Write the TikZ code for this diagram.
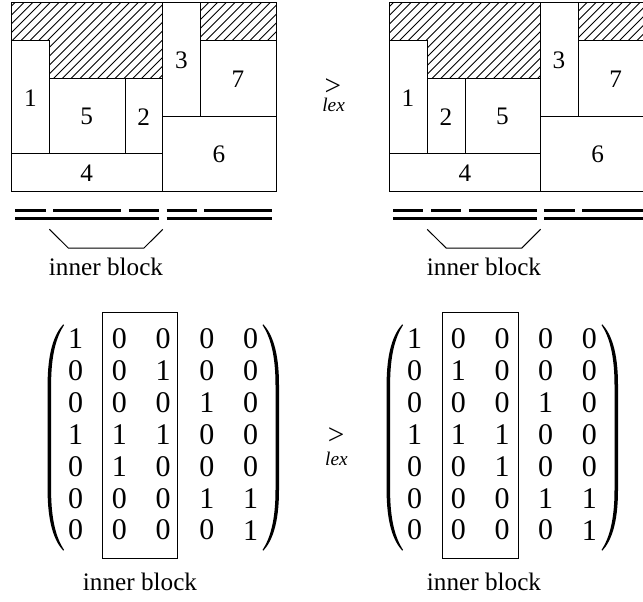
\documentclass[tikz,border=0pt]{standalone}
\usepackage{fontspec}
\setmainfont{Liberation Serif}
\tikzset{
  blockline/.style={draw=black,line width=0.75pt},
  hatchline/.style={draw=black,line width=0.65pt},
  dashbar/.style={draw=black,line width=2pt},
  dig/.style={inner sep=0pt,font=\fontsize{18.9pt}{20pt}\selectfont},
  matdig/.style={inner sep=0pt,font=\fontsize{22.5pt}{24pt}\selectfont},
  caplab/.style={inner sep=0pt,anchor=base,font=\fontsize{18.9pt}{20pt}\selectfont},
  gtsym/.style={inner sep=0pt,font=\fontsize{22pt}{24pt}\selectfont},
  lexlab/.style={inner sep=0pt,anchor=base,font=\fontsize{14.5pt}{15pt}\selectfont\itshape},
  parfill/.style={fill=black,draw=none}
}
\newcommand{\ParenShape}{
  (0,324.3) .. controls (-9,334) and (-15.7,352) .. (-15.7,385) -- (-15.7,490)
  .. controls (-15.7,523) and (-9,541) .. (0,550.7) -- (0.7,549.9)
  .. controls (-7,538) and (-12.2,520) .. (-12.2,490) -- (-12.2,385)
  .. controls (-12.2,355) and (-7,337) .. (0.7,325.1) -- cycle}
\newcommand{\HatchLines}{
  \foreach \c in {0,8.8,...,970} {
    \draw[hatchline] (\c,0) -- (\c-300,300);
  }}
\begin{document}
\begin{tikzpicture}[x=0.75pt,y=-0.75pt]
\useasboundingbox (0,0) rectangle (643,601);
\clip (0,0) rectangle (643,601);

% ---------- left block
\begin{scope}
  \clip (11.6,2.7) rectangle (162.8,78.3) (200.6,2.7) rectangle (276.2,40.5);
  \HatchLines
\end{scope}
\fill[white] (11.6,40.5) rectangle (49.4,153.9);
\draw[blockline] (11.6,2.7) rectangle (276.2,191.7);
\draw[blockline] (11.6,40.5) rectangle (49.4,153.9);
\draw[blockline] (49.4,78.3) rectangle (125,153.9);
\draw[blockline] (125,78.3) rectangle (162.8,153.9);
\draw[blockline] (11.6,153.9) rectangle (162.8,191.7);
\draw[blockline] (162.8,2.7) rectangle (200.6,116.1);
\draw[blockline] (200.6,40.5) rectangle (276.2,116.1);
\draw[blockline] (162.8,116.1) rectangle (276.2,191.7);
\node[dig] (la1) at (30.3,98.3) {1};
\node[dig] (la5) at (86.7,116.7) {5};
\node[dig] (la2) at (143.7,116.7) {2};
\node[dig] (la4) at (86.7,173.3) {4};
\node[dig] (la3) at (181.3,60) {3};
\node[dig] (la7) at (238,79) {7};
\node[dig] (la6) at (219,154.3) {6};
\foreach \a/\b in {15.4/45.6,53.2/121.2,128.8/159,166.6/196.8,204.4/272.4}
  \draw[dashbar] (\a,210.3) -- (\b,210.3);
\foreach \a/\b in {15.4/159,166.6/272.4}
  \draw[dashbar] (\a,218.3) -- (\b,218.3);
\coordinate (lba) at (49.4,229.3);
\coordinate (lbb) at (68.3,248);
\coordinate (lbc) at (144,248);
\coordinate (lbd) at (162.8,229.3);
\draw[blockline] (lba) -- (lbb) -- (lbc) -- (lbd);
\node[caplab] (lcap) at (106,275.7) {inner block};

% ---------- right block
\begin{scope}
  \clip (389.4,2.7) rectangle (540.6,78.3) (578.4,2.7) rectangle (654,40.5);
  \HatchLines
\end{scope}
\fill[white] (389.4,40.5) rectangle (427.2,153.9);
\draw[blockline] (389.4,2.7) rectangle (654,191.7);
\draw[blockline] (389.4,40.5) rectangle (427.2,153.9);
\draw[blockline] (427.2,78.3) rectangle (465,153.9);
\draw[blockline] (465,78.3) rectangle (540.6,153.9);
\draw[blockline] (389.4,153.9) rectangle (540.6,191.7);
\draw[blockline] (540.6,2.7) rectangle (578.4,116.1);
\draw[blockline] (578.4,40.5) rectangle (654,116.1);
\draw[blockline] (540.6,116.1) rectangle (654,191.7);
\node[dig] (ra1) at (408,98.3) {1};
\node[dig] (ra2) at (446,116.7) {2};
\node[dig] (ra5) at (502.3,116.7) {5};
\node[dig] (ra4) at (465,173.3) {4};
\node[dig] (ra3) at (559,60) {3};
\node[dig] (ra7) at (615.7,79) {7};
\node[dig] (ra6) at (597.7,154.3) {6};
\foreach \a/\b in {393.2/423.4,431/461.2,468.8/536.8,544.4/574.6,582.2/650.2}
  \draw[dashbar] (\a,210.3) -- (\b,210.3);
\foreach \a/\b in {393.2/536.8,544.4/650.2}
  \draw[dashbar] (\a,218.3) -- (\b,218.3);
\coordinate (rba) at (427.2,229.3);
\coordinate (rbb) at (446.1,248);
\coordinate (rbc) at (521.8,248);
\coordinate (rbd) at (540.6,229.3);
\draw[blockline] (rba) -- (rbb) -- (rbc) -- (rbd);
\node[caplab] (rcap) at (484,275.7) {inner block};

% ---------- lex symbols
\node[gtsym] (g1) at (333,87.3) {>};
\node[lexlab] (l1) at (333.6,111.7) {lex};
\node[gtsym] (g2) at (336.2,436.3) {>};
\node[lexlab] (l2) at (336.5,465) {lex};

% ---------- left matrix
\foreach \row [count=\r] in {{1,0,0,0,0},{0,0,1,0,0},{0,0,0,1,0},{1,1,1,0,0},{0,1,0,0,0},{0,0,0,1,1},{0,0,0,0,1}}
  \foreach \v [count=\c] in \row
    \node[matdig] (lm\r-\c) at ({75.7+43.7*(\c-1)},{339+31.85*(\r-1)}) {\v};
\draw[blockline] (102.3,312.3) rectangle (177.7,558);
\begin{scope}[shift={(63.3,0)}]
  \fill[parfill] \ParenShape;
\end{scope}
\begin{scope}[shift={(263.3,0)},xscale=-1]
  \fill[parfill] \ParenShape;
\end{scope}
\node[caplab] (lmcap) at (140,590) {inner block};

% ---------- right matrix
\foreach \row [count=\r] in {{1,0,0,0,0},{0,1,0,0,0},{0,0,0,1,0},{1,1,1,0,0},{0,0,1,0,0},{0,0,0,1,1},{0,0,0,0,1}}
  \foreach \v [count=\c] in \row
    \node[matdig] (rm\r-\c) at ({414.7+43.65*(\c-1)},{339+31.85*(\r-1)}) {\v};
\draw[blockline] (442.3,312.3) rectangle (518.3,558);
\begin{scope}[shift={(402.3,0)}]
  \fill[parfill] \ParenShape;
\end{scope}
\begin{scope}[shift={(602.3,0)},xscale=-1]
  \fill[parfill] \ParenShape;
\end{scope}
\node[caplab] (rmcap) at (484,590) {inner block};
\end{tikzpicture}
\end{document}
